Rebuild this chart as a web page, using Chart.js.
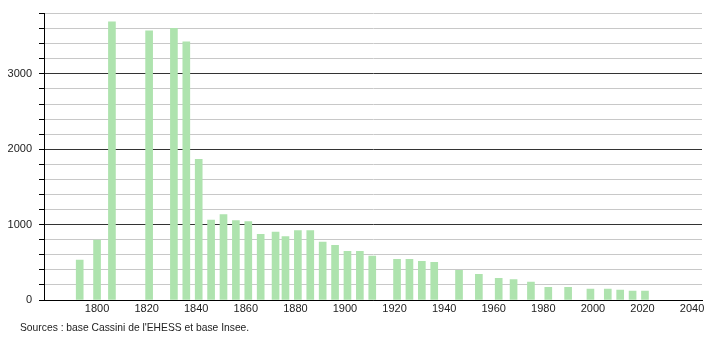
<!DOCTYPE html>
<html>
<head>
<meta charset="utf-8">
<script src="https://cdn.jsdelivr.net/npm/chart.js@4/dist/chart.umd.min.js"></script>
<style>
html,body{margin:0;padding:0;background:#fff;}
#wrap{position:relative;width:710px;height:340px;}
#src{position:absolute;left:20px;top:322px;font:10.3px "Liberation Sans",Arial,sans-serif;color:#222;white-space:nowrap;}
</style>
</head>
<body>
<div id="wrap">
<canvas id="c" width="710" height="340"></canvas>
<div id="src">Sources : base Cassini de l'EHESS et base Insee.</div>
</div>
<script>
const years = [1793,1800,1806,1821,1831,1836,1841,1846,1851,1856,1861,1866,1872,1876,1881,1886,1891,1896,1901,1906,1911,1921,1926,1931,1936,1946,1954,1962,1968,1975,1982,1990,1999,2006,2011,2016,2021];
const population = [530,795,3690,3570,3605,3425,1865,1060,1135,1055,1040,870,900,842,921,921,767,724,645,645,583,539,539,513,500,395,342,289,272,237,167,167,145,145,132,118,118];
const xTickLabels = [1800,1820,1840,1860,1880,1900,1920,1940,1960,1980,2000,2020,2040];
const yTickLabels = [0,1000,2000,3000];

const font = {family:'"Liberation Sans", Arial, sans-serif', size:11};

new Chart(document.getElementById('c'), {
  type: 'bar',
  data: {
    datasets: [{
      data: years.map((y,i)=>({x:y, y:population[i]})),
      backgroundColor: 'rgb(174,227,174)',
      borderWidth: 0,
      barThickness: 7
    }]
  },
  options: {
    responsive: false,
    animation: false,
    layout: {padding: {top: 10, right: 8, left: 0, bottom: 0}},
    plugins: {legend: {display:false}, tooltip: {enabled:false}},
    scales: {
      x: {
        type: 'linear',
        offset: false,
        min: 1778.6,
        max: 2044,
        afterBuildTicks: s => { s.ticks = xTickLabels.map(v=>({value:v})); },
        afterFit: s => { s.height = 40; },
        grid: {display:false, drawTicks:false, offset:false},
        border: {display:true, color:'#000', width:1},
        ticks: {font, color:'#222', padding:2, maxRotation:0, autoSkip:false,
          callback: v => String(v)}
      },
      y: {
        min: 0,
        max: 3800,
        afterFit: s => { s.width = 44; },
        afterBuildTicks: s => { const t=[]; for(let v=0; v<=3800; v+=200) t.push({value:v}); s.ticks=t; },
        grid: {
          color: ctx => (ctx.tick && ctx.tick.value % 1000 === 0) ? '#333' : '#c8c8c8',
          lineWidth: 1,
          drawTicks: true,
          tickLength: 5,
          tickColor: '#000'
        },
        border: {display:true, color:'#000', width:1},
        ticks: {font, color:'#222', padding:7, autoSkip:false,
          callback: v => yTickLabels.includes(v) ? String(v) : ''}
      }
    }
  }
});
</script>
</body>
</html>
